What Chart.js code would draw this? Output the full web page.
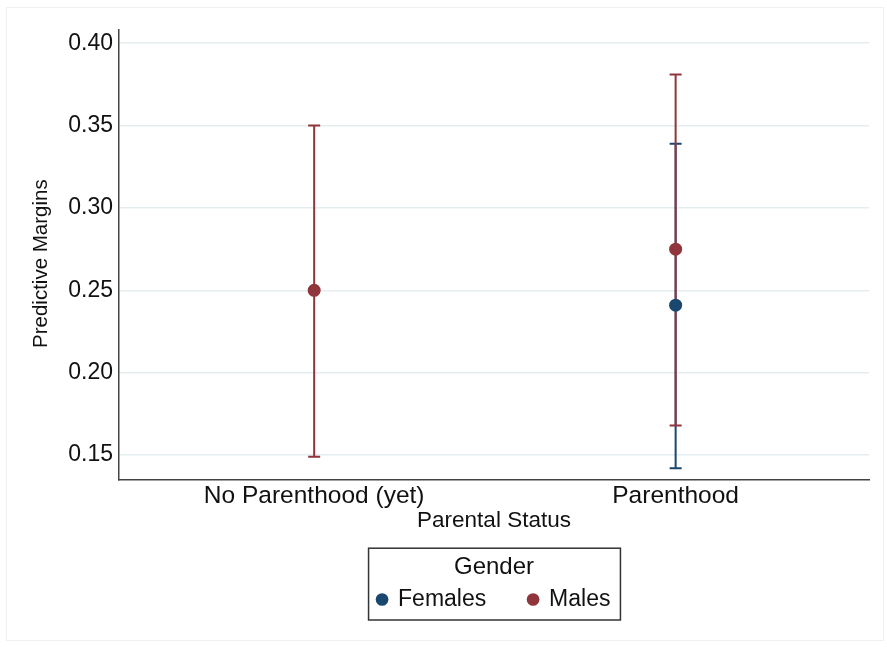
<!DOCTYPE html>
<html>
<head>
<meta charset="utf-8">
<script src="https://cdn.jsdelivr.net/npm/chart.js@4.4.1/dist/chart.umd.min.js"></script>
<style>
  body { margin: 0; background: #fff; }
  #wrap { position: relative; width: 887px; height: 647px; }
  #frame { position: absolute; left: 6px; top: 7px; width: 878px; height: 634px; border: 1px solid #eef1f1; box-sizing: border-box; pointer-events: none; }
</style>
</head>
<body>
<div id="wrap">
  <canvas id="chart" width="887" height="647"></canvas>
  <div id="frame"></div>
</div>
<script>
// Parental status categories and predictive margins with 95% CIs
const categories = ['No Parenthood (yet)', 'Parenthood'];
const femalesMargin = [null, 0.241];
const femalesLower = [null, 0.142];
const femalesUpper = [null, 0.339];
const malesMargin = [0.250, 0.275];
const malesLower = [0.149, 0.168];
const malesUpper = [0.350, 0.381];
const yTicks = [0.15, 0.20, 0.25, 0.30, 0.35, 0.40];

const navy = '#1a476f';
const maroon = '#90353b';
const font = 'Liberation Sans, Arial, sans-serif';

const toPoints = (vals, lo, hi) => vals
  .map((v, i) => v === null ? null : { x: i, y: v, lo: lo[i], hi: hi[i] })
  .filter(p => p !== null);

// Draw the CI bars under the points
const errorBars = {
  id: 'errorBars',
  beforeDatasetsDraw(chart) {
    const { ctx, scales: { x, y } } = chart;
    chart.data.datasets.forEach(ds => {
      ctx.save();
      ctx.strokeStyle = ds.borderColor;
      ctx.lineWidth = 2;
      ds.data.forEach(p => {
        const px = x.getPixelForValue(p.x);
        const top = y.getPixelForValue(p.hi);
        const bot = y.getPixelForValue(p.lo);
        ctx.beginPath();
        ctx.moveTo(px, top);
        ctx.lineTo(px, bot);
        ctx.moveTo(px - 6, top);
        ctx.lineTo(px + 6, top);
        ctx.moveTo(px - 6, bot);
        ctx.lineTo(px + 6, bot);
        ctx.stroke();
      });
      ctx.restore();
    });
  }
};

// Box around the legend, Stata style
const legendBox = {
  id: 'legendBox',
  afterDraw(chart) {
    const lg = chart.legend;
    if (!lg || !lg.legendHitBoxes.length) return;
    const hb = lg.legendHitBoxes;
    const left = Math.min(...hb.map(b => b.left)) - 9;
    const right = Math.max(...hb.map(b => b.left + b.width)) + 10;
    const { ctx } = chart;
    ctx.save();
    ctx.strokeStyle = '#333';
    ctx.lineWidth = 1.5;
    ctx.strokeRect(left, lg.top + 1, right - left, lg.bottom - lg.top - 2);
    ctx.restore();
  }
};

new Chart(document.getElementById('chart'), {
  type: 'scatter',
  data: {
    datasets: [
      {
        label: 'Females',
        data: toPoints(femalesMargin, femalesLower, femalesUpper),
        backgroundColor: navy,
        borderColor: navy,
        pointRadius: 6.5,
        pointBorderWidth: 0
      },
      {
        label: 'Males',
        data: toPoints(malesMargin, malesLower, malesUpper),
        backgroundColor: maroon,
        borderColor: maroon,
        pointRadius: 6.5,
        pointBorderWidth: 0
      }
    ]
  },
  options: {
    responsive: false,
    animation: false,
    layout: { padding: { top: 30, right: 18, left: 22, bottom: 26 } },
    plugins: {
      tooltip: { enabled: false },
      legend: {
        position: 'bottom',
        fullSize: false,
        title: {
          display: true,
          text: 'Gender',
          color: '#111',
          font: { family: font, size: 24 },
          padding: { top: 8, bottom: 0 }
        },
        labels: {
          usePointStyle: true,
          pointStyle: 'circle',
          boxWidth: 9,
          boxHeight: 9,
          padding: 4,
          color: '#111',
          font: { family: font, size: 23 },
          // extra gap after the first entry, like the Stata legend
          generateLabels: chart => Chart.defaults.plugins.legend.labels.generateLabels(chart)
            .map((l, i) => ({ ...l, text: i === 0 ? l.text + '      ' : l.text }))
        }
      }
    },
    scales: {
      x: {
        type: 'linear',
        min: -0.54,
        max: 1.535,
        afterBuildTicks: s => { s.ticks = categories.map((c, i) => ({ value: i })); },
        afterFit: s => { s.height = 67; },
        grid: { display: false, drawTicks: false },
        border: { color: '#444', width: 1.5 },
        ticks: {
          padding: 1,
          color: '#111',
          font: { family: font, size: 24.5 },
          callback: v => categories[v]
        },
        title: {
          display: true,
          text: 'Parental Status',
          color: '#111',
          font: { family: font, size: 22.5 },
          padding: { top: 0, bottom: 13 }
        }
      },
      y: {
        min: 0.1348,
        max: 0.408,
        afterBuildTicks: s => { s.ticks = yTicks.map(v => ({ value: v })); },
        afterFit: s => { s.width = 97; },
        grid: { color: '#e4edf0', lineWidth: 1.5, drawTicks: false },
        border: { color: '#444', width: 1.5 },
        ticks: {
          padding: 6,
          color: '#111',
          font: { family: font, size: 23 },
          callback: v => v.toFixed(2)
        },
        title: {
          display: true,
          text: 'Predictive Margins   ',
          color: '#111',
          font: { family: font, size: 20.5 },
          padding: { top: 7, bottom: 0 }
        }
      }
    }
  },
  plugins: [errorBars, legendBox]
});
</script>
</body>
</html>
